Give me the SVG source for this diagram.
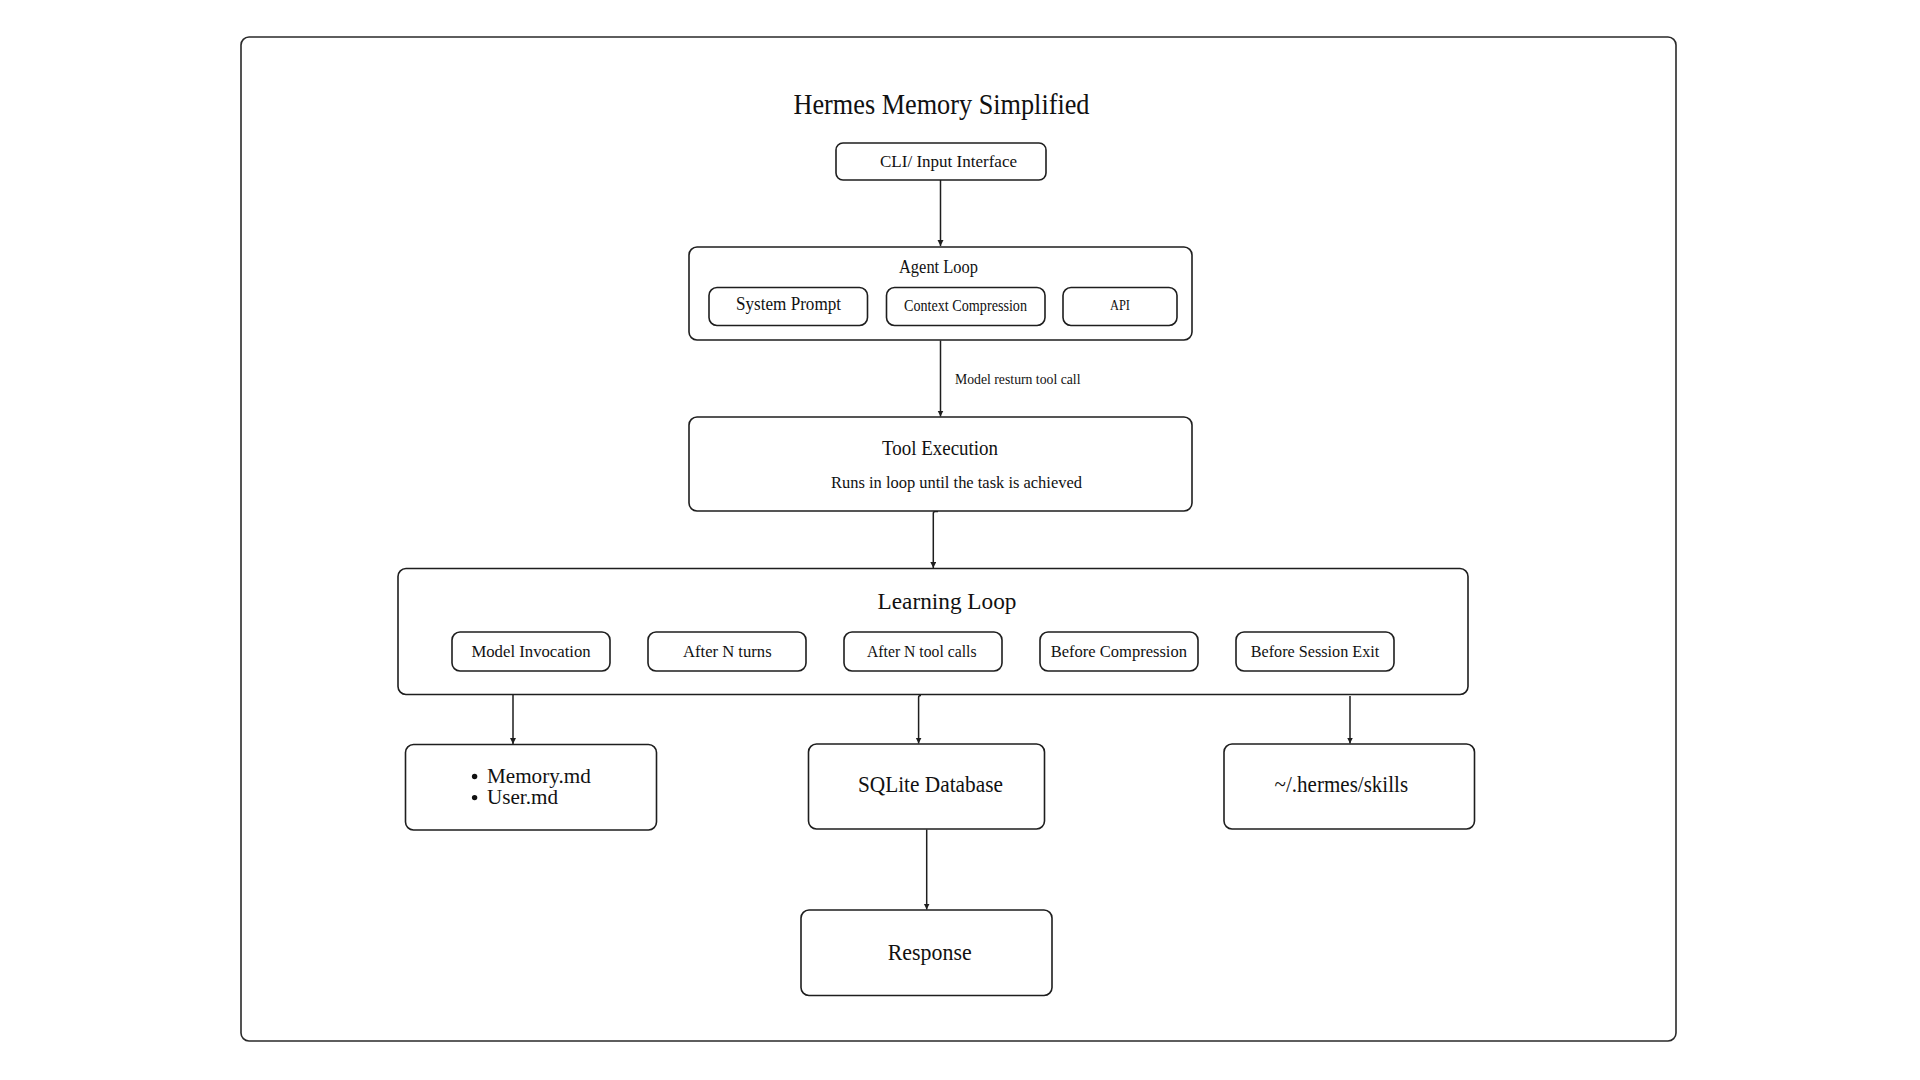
<svg xmlns="http://www.w3.org/2000/svg" width="1920" height="1080" viewBox="0 0 1920 1080">
<defs>
<style>
.box{fill:#fff;stroke:#1e1e1e;stroke-width:1.6}
.frame{fill:#fff;stroke:#2a2a2a;stroke-width:1.6}
.t{font-family:"Liberation Serif","Times New Roman",serif;fill:#111}
.edge{fill:none;stroke:#1e1e1e;stroke-width:1.5}
</style>
<marker id="ah" markerUnits="userSpaceOnUse" markerWidth="7" markerHeight="7" refX="6" refY="3" orient="auto">
<path d="M0,0 L6,3 L0,6 z" fill="#1e1e1e"/>
</marker>
</defs>
<rect width="1920" height="1080" fill="#fff"/>
<rect class="frame" x="241" y="37" width="1435" height="1004" rx="8"/>
<text class="t" x="793.5" y="114.3" font-size="30" textLength="296" lengthAdjust="spacingAndGlyphs">Hermes Memory Simplified</text>

<g id="connectors">
<line class="edge" x1="940.5" y1="180" x2="940.5" y2="246" marker-end="url(#ah)"/>
<line class="edge" x1="940.5" y1="340.5" x2="940.5" y2="416.5" marker-end="url(#ah)"/>
<text class="t" x="955" y="384" font-size="15.5" textLength="125.5" lengthAdjust="spacingAndGlyphs">Model resturn tool call</text>
<path class="edge" d="M938,511.5 L935.3,511.5 Q933.3,511.5 933.3,513.5 L933.3,568" marker-end="url(#ah)"/>
<line class="edge" x1="513" y1="694.5" x2="513" y2="744" marker-end="url(#ah)"/>
<path class="edge" d="M921,695.5 L920.6,695.5 Q918.6,695.5 918.6,697.5 L918.6,743.5" marker-end="url(#ah)"/>
<line class="edge" x1="1350" y1="696" x2="1350" y2="743.5" marker-end="url(#ah)"/>
<line class="edge" x1="926.7" y1="829.5" x2="926.7" y2="909.5" marker-end="url(#ah)"/>
</g>

<g id="cli">
<rect class="box" x="836" y="143" width="210" height="37" rx="7"/>
<text class="t" x="880" y="167" font-size="17.5" textLength="137" lengthAdjust="spacingAndGlyphs">CLI/ Input Interface</text>
</g>

<g id="agent-loop">
<rect class="box" x="689" y="247" width="503" height="93" rx="8"/>
<text class="t" x="899" y="272.7" font-size="18.5" textLength="79" lengthAdjust="spacingAndGlyphs">Agent Loop</text>
</g>
<g id="system-prompt">
<rect class="box" x="709" y="287.5" width="158.5" height="38" rx="8"/>
<text class="t" x="736" y="310" font-size="18.5" textLength="105" lengthAdjust="spacingAndGlyphs">System Prompt</text>
</g>
<g id="context-compression">
<rect class="box" x="886.5" y="287.5" width="158.5" height="38" rx="8"/>
<text class="t" x="904" y="310.5" font-size="16" textLength="123" lengthAdjust="spacingAndGlyphs">Context Compression</text>
</g>
<g id="api">
<rect class="box" x="1063" y="287.5" width="114" height="38" rx="8"/>
<text class="t" x="1110" y="310.3" font-size="14" textLength="20" lengthAdjust="spacingAndGlyphs">API</text>
</g>

<g id="tool-execution">
<rect class="box" x="689" y="417" width="503" height="94" rx="8"/>
<text class="t" x="882" y="455.3" font-size="21.5" textLength="116" lengthAdjust="spacingAndGlyphs">Tool Execution</text>
<text class="t" x="831" y="487.7" font-size="17" textLength="251" lengthAdjust="spacingAndGlyphs">Runs in loop until the task is achieved</text>
</g>

<g id="learning-loop">
<rect class="box" x="398" y="568.5" width="1070" height="126" rx="8"/>
<text class="t" x="877.5" y="609.3" font-size="23.5" textLength="139" lengthAdjust="spacingAndGlyphs">Learning Loop</text>
</g>
<g id="model-invocation">
<rect class="box" x="452" y="632" width="158" height="39" rx="8"/>
<text class="t" x="471.4" y="656.7" font-size="17.5" textLength="119.3" lengthAdjust="spacingAndGlyphs">Model Invocation</text>
</g>
<g id="after-n-turns">
<rect class="box" x="648" y="632" width="158" height="39" rx="8"/>
<text class="t" x="683" y="656.7" font-size="17.5" textLength="88.6" lengthAdjust="spacingAndGlyphs">After N turns</text>
</g>
<g id="after-n-tool-calls">
<rect class="box" x="844" y="632" width="158" height="39" rx="8"/>
<text class="t" x="867" y="656.7" font-size="17.5" textLength="109.5" lengthAdjust="spacingAndGlyphs">After N tool calls</text>
</g>
<g id="before-compression">
<rect class="box" x="1040" y="632" width="158" height="39" rx="8"/>
<text class="t" x="1050.7" y="656.7" font-size="17.5" textLength="136.3" lengthAdjust="spacingAndGlyphs">Before Compression</text>
</g>
<g id="before-session-exit">
<rect class="box" x="1236" y="632" width="158" height="39" rx="8"/>
<text class="t" x="1250.7" y="656.7" font-size="17.5" textLength="128.6" lengthAdjust="spacingAndGlyphs">Before Session Exit</text>
</g>

<g id="memory-files">
<rect class="box" x="405.5" y="744.5" width="251" height="85.5" rx="8"/>
<circle cx="474.6" cy="776.5" r="2.7" fill="#111"/>
<circle cx="474.6" cy="797.6" r="2.7" fill="#111"/>
<text class="t" x="487" y="782.7" font-size="21.5" textLength="103.7" lengthAdjust="spacingAndGlyphs">Memory.md</text>
<text class="t" x="487" y="804" font-size="21.5" textLength="71" lengthAdjust="spacingAndGlyphs">User.md</text>
</g>

<g id="sqlite-database">
<rect class="box" x="808.5" y="744" width="236" height="85" rx="8"/>
<text class="t" x="857.9" y="791.7" font-size="22.5" textLength="145" lengthAdjust="spacingAndGlyphs">SQLite Database</text>
</g>

<g id="skills">
<rect class="box" x="1224" y="744" width="250.5" height="85" rx="8"/>
<text class="t" x="1274.6" y="792" font-size="22.5" textLength="133.5" lengthAdjust="spacingAndGlyphs">~/.hermes/skills</text>
</g>

<g id="response">
<rect class="box" x="801" y="910" width="251" height="85.5" rx="8"/>
<text class="t" x="887.7" y="960" font-size="22.5" textLength="84" lengthAdjust="spacingAndGlyphs">Response</text>
</g>
</svg>
